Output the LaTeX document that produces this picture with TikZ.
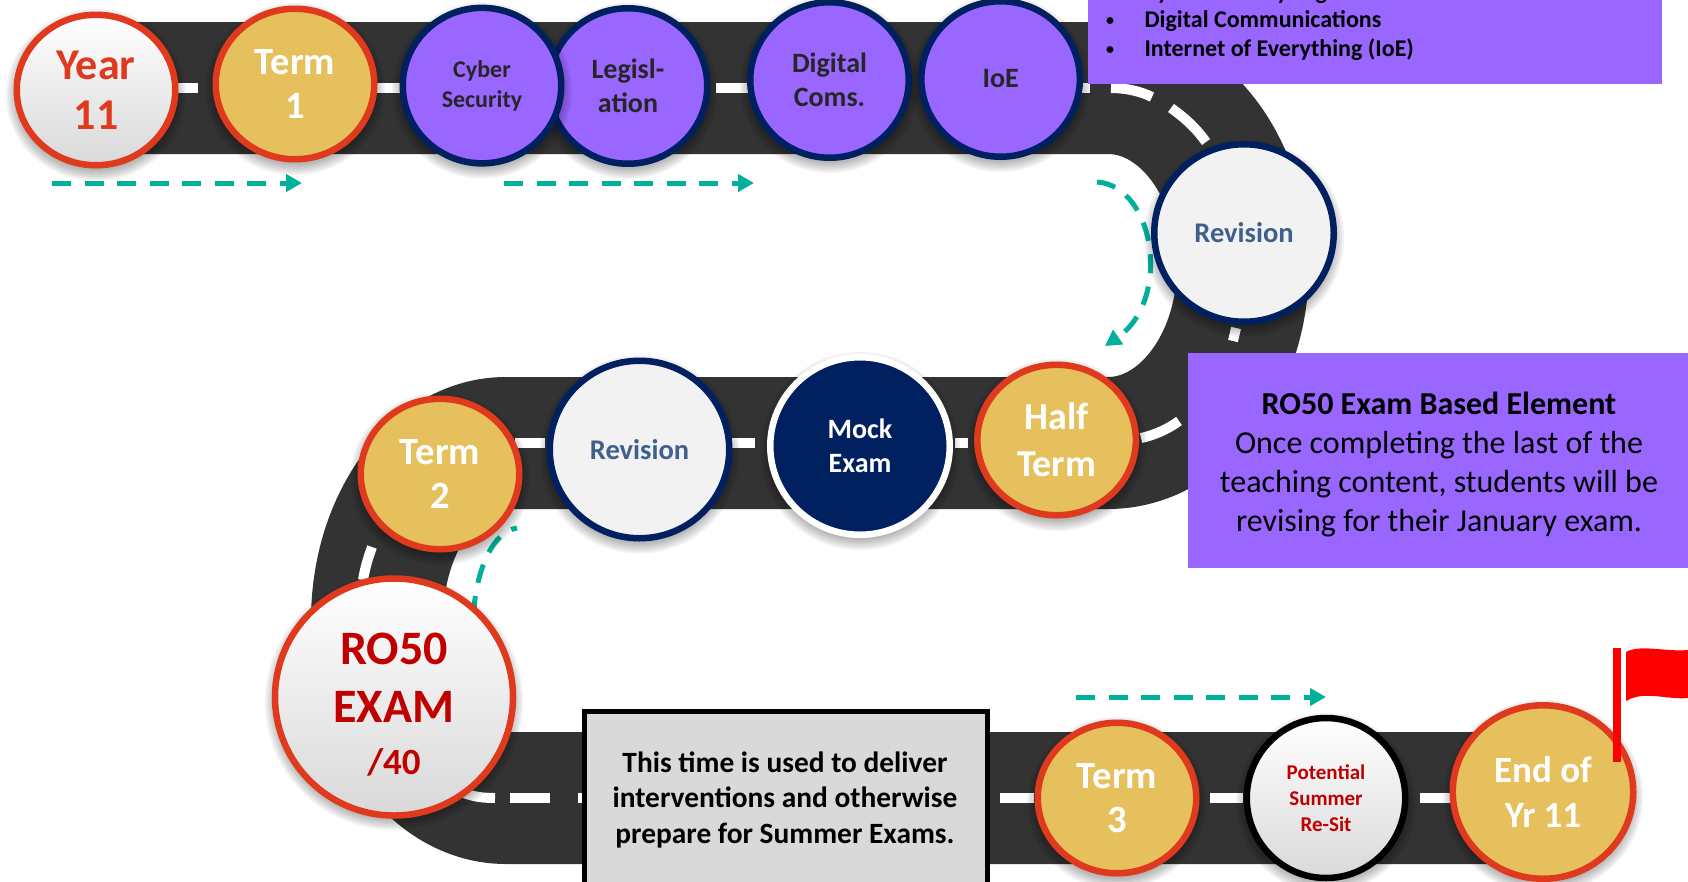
\documentclass[tikz,border=0pt]{standalone}
\usepackage{fontspec}
\setmainfont{Carlito}
\usetikzlibrary{arrows.meta,shapes.geometric}
\definecolor{roadc}{HTML}{333333}
\definecolor{redb}{HTML}{E03A1E}
\definecolor{gold}{HTML}{E6C05C}
\definecolor{purp}{HTML}{9966FF}
\definecolor{navy}{HTML}{002060}
\definecolor{darkred}{HTML}{C00000}
\definecolor{teal2}{HTML}{00B09B}
\definecolor{slate}{HTML}{3F5F8C}
\definecolor{paleg}{HTML}{F2F2F2}
\newcommand{\fs}[2]{\fontsize{#1}{#2}\selectfont}
\tikzset{
  road/.style={draw=roadc,line width=132pt,line cap=butt},
  lane/.style={draw=white,line width=10pt},
  guide/.style={draw=teal2,line width=5pt,dash pattern=on 19pt off 13.5pt,-{Triangle[length=16pt,width=17pt]}},
  stop/.style={ellipse,inner sep=0pt,align=center,line width=6.5pt},
  tx/.style 2 args={font=\bfseries\fs{#1}{#2}},
  gsize/.style={minimum width=158.5pt,minimum height=150.5pt},
  psize/.style={minimum width=158.5pt,minimum height=155.5pt},
  rsize/.style={minimum width=179.5pt,minimum height=177.5pt},
  goldstop/.style={stop,gsize,fill=gold,draw=redb,text=white},
  purpstop/.style={stop,psize,fill=purp,draw=navy,text=black!85},
  revstop/.style={stop,rsize,fill=paleg,draw=navy,text=slate},
  whitestop/.style={stop,top color=white,bottom color=black!15,draw=redb},
  bl/.style={anchor=base west,font=\bfseries\fs{24}{24}},
  dot/.style={anchor=base,font=\bfseries\fs{16}{16}},
  pl/.style={anchor=base,font=\fs{32}{32}},
  gl/.style={anchor=base,font=\bfseries\fs{29.4}{30}}
}
% soft shadow under a stop: x, y, half width, half height
\newcommand{\softdisc}[4]{%
  \foreach \k in {10,8,...,-6}{\fill[black,opacity=.05] (#1,#2+5) ellipse[x radius=#3+\k,y radius=#4+\k];}}
\begin{document}
\begin{tikzpicture}[x=1pt,y=-1pt]
\useasboundingbox (0,0) rectangle (1688,881);
\fill[white] (0,0) rectangle (1688,881);
% road
\path[road] (96,88) -- (1108,88) arc[start angle=-90,end angle=90,x radius=135,y radius=177.5]
  -- (506,443) arc[start angle=-90,end angle=-270,x radius=129,y radius=177.5] -- (1490,798);
% lane marks
\foreach \a/\b/\y in {170/198/88,370/402/88,716/750/88,1082/1090/88,955/968/443,732/755/443,515/545/443,1000/1034/798,1210/1243/798,1420/1452/798,510/550/798,578/582/798}
  {\draw[lane] (\a,\y) -- (\b,\y);}
\draw[lane] (1111,88) .. controls (1125,88) and (1140,91) .. (1152,97);
\draw[lane] (1171,108) .. controls (1185,118) and (1196,128) .. (1206,142);
\draw[lane] (1236,328) -- (1233,341);
\draw[lane] (1141,438) .. controls (1155,435) and (1168,429) .. (1179,421);
\draw[lane] (372,547) .. controls (368,558) and (365,568) .. (363,580);
\draw[lane] (464,793) .. controls (474,797) and (484,798) .. (495,798);
% guides
\coordinate (g1a) at (52,183); \coordinate (g1b) at (302,183);
\coordinate (g2a) at (504,183); \coordinate (g2b) at (754,183);
\coordinate (g3a) at (1076,697); \coordinate (g3b) at (1326,697);
\coordinate (g4a) at (1097,182); \coordinate (g4b) at (1105,346);
\coordinate (g5a) at (517,528); \coordinate (g5b) at (516,704);
\draw[guide] (g1a) -- (g1b);
\draw[guide] (g2a) -- (g2b);
\draw[guide] (g3a) -- (g3b);
\draw[guide] (g4a) .. controls (1155,186) and (1172,300) .. (g4b);
\draw[guide,dash phase=13pt] (g5a) .. controls (470,535) and (455,670) .. (g5b);
% stops
\softdisc{96}{90}{80}{76}
\node[whitestop,gsize,text=redb,tx={44}{50}] (year) at (96,90) {Year\\11};
\softdisc{295}{84}{80}{76}
\node[goldstop,tx={38.5}{44}] (t1) at (295,84) {Term\\1};
\softdisc{628}{86}{80}{78}
\node[purpstop,tx={28}{34}] (leg) at (628,86) {Legisl-\\ation};
\softdisc{482}{85.6}{80}{78}
\node[purpstop,tx={24}{30}] (cyb) at (482,85.6) {Cyber\\Security};
\softdisc{829.5}{80}{80}{78}
\node[purpstop,tx={28}{34}] (dig) at (829.5,80) {Digital\\Coms.};
\softdisc{1000.6}{79}{80}{78}
\node[purpstop,tx={28}{34}] (ioe) at (1000.6,79) {IoE};
\softdisc{1244}{233}{90}{89}
\node[revstop,tx={28.5}{34}] (r1) at (1244,233) {Revision};
\softdisc{1056.6}{440}{80}{76}
\node[goldstop,tx={38}{47}] (ht) at (1056.6,440) {Half\\Term};
\softdisc{860}{446}{90}{89}
\node[stop,rsize,fill=navy,draw=white,text=white,tx={28}{34}] (mock) at (860,446) {Mock\\Exam};
\softdisc{639.5}{449.5}{90}{89}
\node[revstop,tx={28.5}{34}] (r2) at (639.5,449.5) {Revision};
\softdisc{440}{474}{80}{76}
\node[goldstop,tx={38.5}{44}] (t2) at (440,474) {Term\\2};
\softdisc{394}{697}{119}{118}
\node[whitestop,minimum width=238pt,minimum height=237pt,text=darkred,tx={48}{58}] (exam) at (394,697)
  {\rule{0pt}{47pt}RO50\\EXAM\\[-6pt]\fs{37}{44}/40};
\softdisc{1117}{798}{80}{76}
\node[goldstop,tx={38.5}{44}] (t3) at (1117,798) {Term\\3};
\softdisc{1326}{798}{80}{80}
\node[stop,minimum width=158.5pt,minimum height=160pt,top color=white,bottom color=black!15,draw=black,text=darkred,tx={21}{26}] (resit) at (1326,798) {Potential\\Summer\\Re-Sit};
\softdisc{1543}{792}{90}{87}
\node[goldstop,minimum width=180.5pt,minimum height=173.5pt,tx={37}{45}] (end) at (1543,792) {End of\\Yr 11};
% panels
\fill[purp] (1088,-1) rectangle (1662,84);
\node[bl] (bl0) at (1141,-1) {Cyber Security Legislation};
\node[bl] (bl1) at (1141,27) {Digital Communications};
\node[bl] (bl2) at (1141,56) {Internet of Everything (IoE)};
\node[dot] (d0) at (1110,-3) {•};
\node[dot] (d1) at (1110,25) {•};
\node[dot] (d2) at (1110,54) {•};
\fill[purp] (1188,353) rectangle (1688,568);
\node[pl,font=\bfseries\fs{32}{32}] (p1) at (1439,414.5) {RO50 Exam Based Element};
\node[pl] (p2) at (1439,453) {Once completing the last of the};
\node[pl] (p3) at (1439,492) {teaching content, students will be};
\node[pl] (p4) at (1439,531) {revising for their January exam.};
\filldraw[fill=black!15,draw=black,line width=5pt] (584,711) rectangle (987,890);
\node[gl] (gb1) at (785,772) {This time is used to deliver};
\node[gl] (gb2) at (785,807) {interventions and otherwise};
\node[gl] (gb3) at (785,843) {prepare for Summer Exams.};
% flag
\draw[red,line width=8pt] (1617,648) -- (1617,762);
\fill[red] (1626,652) .. controls (1640,644) and (1665,652) .. (1688,650) -- (1688,698) .. controls (1665,700) and (1645,690) .. (1626,701) -- cycle;
\end{tikzpicture}
\end{document}
